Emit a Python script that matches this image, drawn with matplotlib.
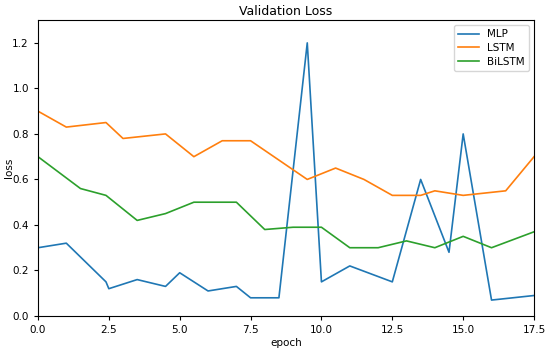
import matplotlib
matplotlib.use("Agg")
import matplotlib.pyplot as plt

mlp_x = [0, 1, 2.4, 2.5, 3.5, 4.5, 5.0, 6.0, 7.0, 7.5, 8.5, 9.5, 10.0, 11.0, 12.5, 13.5, 14.5, 15.0, 16.0, 17.5]
mlp_y = [0.30, 0.32, 0.15, 0.12, 0.16, 0.13, 0.19, 0.11, 0.13, 0.08, 0.08, 1.20, 0.15, 0.22, 0.15, 0.60, 0.28, 0.80, 0.07, 0.09]

lstm_x = [0, 1, 2.4, 3.0, 4.5, 5.5, 6.5, 7.5, 9.5, 10.5, 11.5, 12.5, 13.5, 14.0, 15.0, 16.5, 17.5]
lstm_y = [0.90, 0.83, 0.85, 0.78, 0.80, 0.70, 0.77, 0.77, 0.60, 0.65, 0.60, 0.53, 0.53, 0.55, 0.53, 0.55, 0.70]

bilstm_x = [0, 1.5, 2.4, 3.5, 4.5, 5.5, 7.0, 8.0, 9.0, 10.0, 11.0, 12.0, 13.0, 14.0, 15.0, 16.0, 17.5]
bilstm_y = [0.70, 0.56, 0.53, 0.42, 0.45, 0.50, 0.50, 0.38, 0.39, 0.39, 0.30, 0.30, 0.33, 0.30, 0.35, 0.30, 0.37]

fig = plt.figure(figsize=(5.5, 3.51), dpi=100)
ax = fig.add_axes([0.069, 0.0997, 0.902, 0.843])
lw = 1.2
ax.plot(mlp_x, mlp_y, color="#1f77b4", lw=lw, label="MLP")
ax.plot(lstm_x, lstm_y, color="#ff7f0e", lw=lw, label="LSTM")
ax.plot(bilstm_x, bilstm_y, color="#2ca02c", lw=lw, label="BiLSTM")

ax.set_xlim(0, 17.5)
ax.set_ylim(0, 1.3)
ax.set_xticks([0, 2.5, 5, 7.5, 10, 12.5, 15, 17.5])
ax.set_yticks([0, 0.2, 0.4, 0.6, 0.8, 1.0, 1.2])
ax.tick_params(labelsize=7.5, length=3, width=0.8)
ax.set_xlabel("epoch", fontsize=7.5, labelpad=2)
ax.set_ylabel("loss", fontsize=7.5)
ax.yaxis.set_label_coords(-0.048, 0.5)
ax.set_title("Validation Loss", fontsize=9, pad=4)
for s in ax.spines.values():
    s.set_linewidth(0.8)
ax.legend(loc="upper right", fontsize=7.5, handlelength=2.0, borderpad=0.4, labelspacing=0.35)

fig.savefig("out.png", dpi=100)
